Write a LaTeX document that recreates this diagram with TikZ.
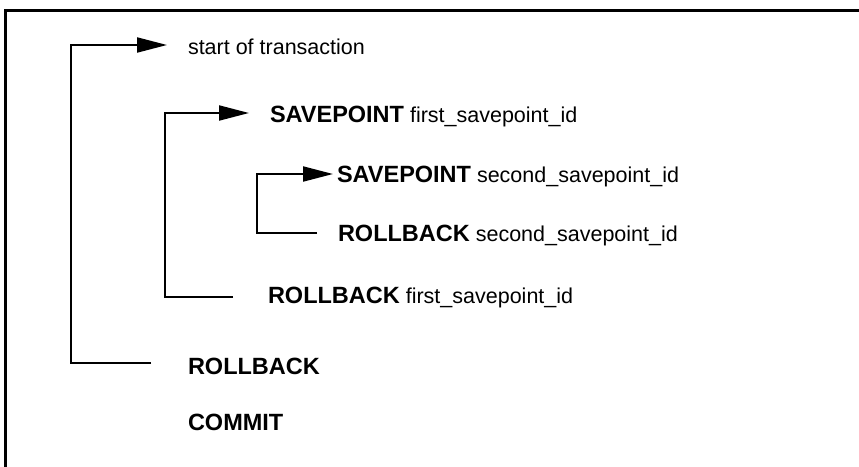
\documentclass[tikz,border=0pt]{standalone}
\usepackage{fontspec}
\setmainfont{Liberation Sans}
\usetikzlibrary{arrows.meta}
\newcommand{\kw}[1]{{\fontsize{23.5}{28}\selectfont\bfseries #1}}
\newcommand{\nm}[1]{{\fontsize{21.5}{26}\selectfont #1}}
\begin{document}
\begin{tikzpicture}[x=1pt,y=-1pt,
  txt/.style={anchor=base west,inner sep=0pt,outer sep=0pt,font=\fontsize{21.5}{26}\selectfont},
  conn/.style={line width=2pt,line cap=butt,line join=miter},
  arr/.style={conn,-{Triangle[length=30pt,width=15pt]}},
  frame/.style={line width=3pt}]
\useasboundingbox (0,0) rectangle (859,466);
\draw[frame] (861,10) -- (5,10) -- (5,468);
\node[txt] (st)  at (188,54)  {start of transaction};
\node[txt] (sp1) at (270,122) {\kw{SAVEPOINT} \nm{first\_savepoint\_id}};
\node[txt] (sp2) at (337,182) {\kw{SAVEPOINT} \nm{second\_savepoint\_id}};
\node[txt] (rb2) at (338,241) {\kw{ROLLBACK} \nm{second\_savepoint\_id}};
\node[txt] (rb1) at (268,303) {\kw{ROLLBACK} \nm{first\_savepoint\_id}};
\node[txt] (rb0) at (188,374) {\kw{ROLLBACK}};
\node[txt] (cm)  at (188,430) {\kw{COMMIT}};
\draw[arr] ([shift={(-37,-11)}]rb0.base west) -| ([shift={(-117,-9)}]st.base west) -- ([shift={(-21,-9)}]st.base west);
\draw[arr] ([shift={(-35,-6)}]rb1.base west) -| ([shift={(-105,-9)}]sp1.base west) -- ([shift={(-21,-9)}]sp1.base west);
\draw[arr] ([shift={(-21,-8)}]rb2.base west) -| ([shift={(-80,-8)}]sp2.base west) -- ([shift={(-4,-8)}]sp2.base west);
\end{tikzpicture}
\end{document}
